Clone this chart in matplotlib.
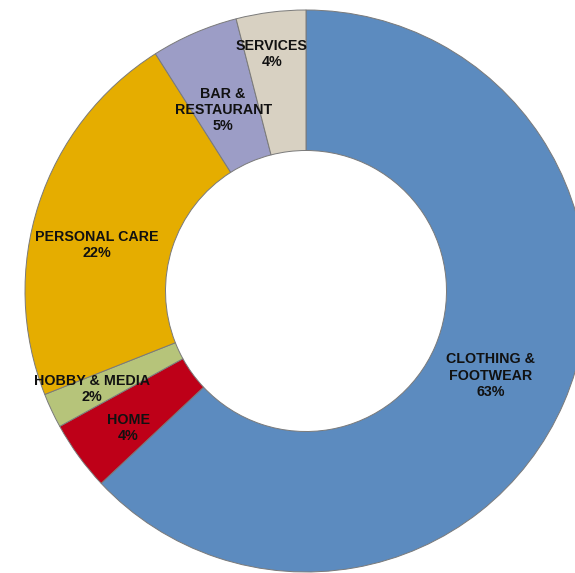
import matplotlib
matplotlib.use("Agg")
import matplotlib.pyplot as plt

categories = ["CLOTHING &\nFOOTWEAR", "HOME", "HOBBY & MEDIA", "PERSONAL CARE",
              "BAR &\nRESTAURANT", "SERVICES"]
values = [63, 4, 2, 22, 5, 4]
colors = ["#5C8BBF", "#BE0018", "#B6C47A", "#E5AD00", "#9C9DC6", "#D8D1C2"]
# label centre positions (data units, ring outer radius = 1)
label_pos = [(0.658, -0.302), (-0.633, -0.488), (-0.762, -0.349),
             (-0.744, 0.164), (-0.295, 0.644), (-0.121, 0.843)]

W, H, DPI = 575, 573, 100
fig = plt.figure(figsize=(W / DPI, H / DPI), dpi=DPI)
ax = fig.add_axes([0, 0, 1, 1])
cx, cy, R = 306, 291, 281

ax.pie(values, colors=colors, startangle=90, counterclock=False, radius=1.0,
       wedgeprops=dict(width=0.5, edgecolor="#7a7a7a", linewidth=0.7))
ax.set_xlim((0 - cx) / R, (W - cx) / R)
ax.set_ylim((cy - H) / R, (cy - 0) / R)
ax.set_aspect("equal")
ax.axis("off")

for cat, v, (x, y) in zip(categories, values, label_pos):
    ax.text(x, y, f"{cat}\n{v}%", ha="center", va="center", fontsize=10.3,
            fontweight="bold", family="Liberation Sans", color="#111111",
            linespacing=1.22)

fig.savefig("out.png", dpi=DPI)
